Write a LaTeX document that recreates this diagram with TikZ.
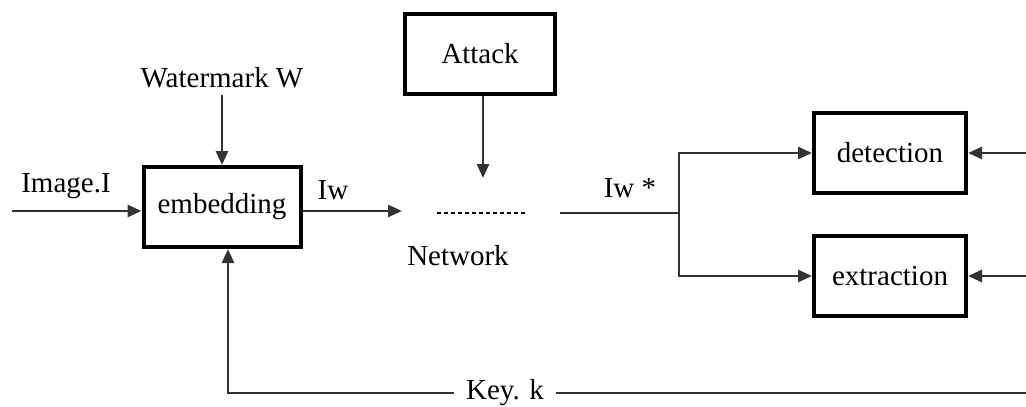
\documentclass[tikz,border=0pt]{standalone}
\usepackage{fontspec}
\setmainfont{Liberation Serif}
\usetikzlibrary{arrows.meta}
\begin{document}
\begin{tikzpicture}[x=1pt,y=-1pt,
  blk/.style={draw=black,line width=4pt,minimum width=#1,minimum height=80pt,inner sep=0pt,font=\fontsize{29}{32}\selectfont},
  lbl/.style={inner sep=0pt,font=\fontsize{29}{32}\selectfont},
  ln/.style={draw=black!80,line width=2.8pt},
  arr/.style={ln,-{Triangle[length=14pt,width=12pt]}}]
\useasboundingbox (0,0) rectangle (1026,407);
\node[blk=157pt] (emb) at (222,207) {embedding};
\node[blk=150pt] (att) at (480,54) {Attack};
\node[blk=152pt] (det) at (890,153) {detection};
\node[blk=152pt] (ext) at (890,276) {extraction};
\node[lbl] (img) at (66,186) {Image.I};
\node[lbl] (wm) at (222,78) {Watermark W};
\node[lbl] (iw) at (333,190) {Iw};
\node[lbl] (net) at (458,256) {Network};
\node[lbl] (iws) at (630,188) {Iw *};
\node[lbl] (key) at (505,393) {Key. k};
\coordinate (in) at (12,211);
\coordinate (iwend) at (402,211);
\coordinate (d1) at (437,213);
\coordinate (d2) at (527,213);
\coordinate (n1) at (560,213);
\coordinate (j) at (679,213);
\coordinate (wtop) at (222,95);
\coordinate (atip) at (483,178);
\coordinate (rd) at (1026,153);
\coordinate (re) at (1026,276);
\coordinate (kr) at (1026,393);
\coordinate (kl) at (228,393);
\draw[arr] (in) -- (in -| emb.west);
\draw[arr] (emb.east |- in) -- (iwend);
\draw[arr] (wtop) -- (emb.north);
\draw[arr] (att.south -| atip) -- (atip);
\draw[line width=2pt,dash pattern=on 4pt off 3pt] (d1) -- (d2);
\draw[ln] (n1) -- (j);
\draw[arr] (j) |- (det.west);
\draw[arr] (j) |- (ext.west);
\draw[arr] (rd) -- (det.east);
\draw[arr] (re) -- (ext.east);
\draw[ln] ([xshift=12pt]key.east) -- (kr);
\draw[arr] ([xshift=-12pt]key.west) -- (kl) -- (kl |- emb.south);
\end{tikzpicture}
\end{document}
